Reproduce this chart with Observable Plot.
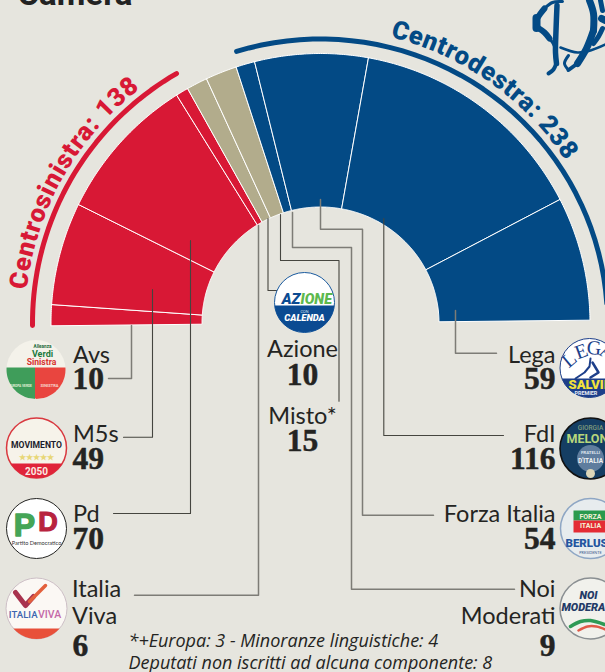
<!DOCTYPE html>
<html lang="it">
<head>
<meta charset="utf-8">
<script src="https://cdn.jsdelivr.net/npm/d3@7"></script>
<script src="https://cdn.jsdelivr.net/npm/@observablehq/plot@0.6"></script>
<style>
html,body{margin:0;padding:0;background:#e6e5de;overflow:hidden}
svg{display:block}
</style>
</head>
<body>
<div id="chart"></div>
<script>
// ---- data ----
const parties = ["Avs","M5s","Pd","Italia Viva","Azione","Misto*","Noi Moderati","Forza Italia","FdI","Lega"];
const seats   = [10,49,70,6,10,15,9,54,116,59];
const blocs   = ["Centrosinistra","Centrosinistra","Centrosinistra","Centrosinistra","Altri","Altri","Centrodestra","Centrodestra","Centrodestra","Centrodestra"];
const coalitionLabels = ["Centrosinistra: 138","Centrodestra: 238"];
const title = "Camera";
const footnotes = ["*+Europa: 3 - Minoranze linguistiche: 4","Deputati non iscritti ad alcuna componente: 8"];

// ---- style ----
const BG="#e6e5de", RED="#d81835", BLUE="#034a85", TAN="#b2ac8c", INK="#242422", LINE="#7d7c76", DARK="#45453f";
const SANS="Lato, 'Open Sans', sans-serif", SERIF="'Liberation Serif', serif", HEAD="Roboto, sans-serif";
const W=605,H=672;

// ---- semicircle geometry ----
const cx=320,cy=322.5,R=269.5,rx=118.5,ry=116,tilt=0.6;
const total=d3.sum(seats);
const rad=d=>d*Math.PI/180;
// angle measured clockwise from the left horizontal
const polar=(a,rX,rY=rX)=>({x:cx-rX*Math.cos(rad(a)),y:cy-rY*Math.sin(rad(a))});
const cum=d3.cumsum(seats);
const angleOf=v=>v/total*180-tilt;
const wedgePts=[];
parties.forEach((p,i)=>{
  const a0=angleOf(cum[i]-seats[i]),a1=angleOf(cum[i]),n=Math.ceil((a1-a0)*2)+1;
  const pts=[];
  for(let k=0;k<=n;k++) pts.push(polar(a0+(a1-a0)*k/n,R));
  for(let k=n;k>=0;k--) pts.push(polar(a0+(a1-a0)*k/n,rx,ry));
  pts.push(pts[0]);
  pts.forEach(q=>wedgePts.push({...q,party:p,bloc:blocs[i]}));
});

const arcPts=(a0,a1,rX,rY=rX)=>d3.range(0,41).map(k=>polar(a0+(a1-a0)*k/40,rX,rY));

// ---- helpers ----
const T=(s,x,y,o={})=>Plot.text([s],{x:[x],y:[y],text:[s],lineAnchor:"bottom",fontFamily:SANS,fill:INK,...o});
const poly=(pts,fill,o={})=>Plot.line(pts,{x:"x",y:"y",fill,stroke:"none",...o});
const stroke=(pts,color,w,o={})=>Plot.line(pts,{x:"x",y:"y",stroke:color,strokeWidth:w,...o});
const P=a=>a.map(([x,y])=>({x,y}));
// part of a disc between two heights and (optionally) two x limits
function seg(c,y0,y1,xmin=-1e4,xmax=1e4){
  const L=[],Rr=[];
  for(let k=0;k<=30;k++){
    const y=y0+(y1-y0)*k/30,w=Math.sqrt(Math.max(0,c.r*c.r-(y-c.y)*(y-c.y)));
    L.push({x:Math.max(c.x-w,xmin),y});Rr.push({x:Math.min(c.x+w,xmax),y});
  }
  return [...L,...Rr.reverse()];
}
const dot=(c,fill,st="none",w=1)=>Plot.dot([c],{x:"x",y:"y",r:c.r,fill,stroke:st,strokeWidth:w});

// ---- leader lines: from inside each segment to its label ----
const leaders=[
 {p:"Avs",   c:LINE,w:1.5,pts:[[131,325],[131,378],[108,378]]},
 {p:"M5s",   c:DARK,w:1.1,pts:[[152,289],[152,436.7],[123,436.7]]},
 {p:"Pd",    c:DARK,w:1.1,pts:[[190,240],[190,513],[113,513]]},
 {p:"Italia",c:LINE,w:1.5,pts:[[258,225],[258,594.7],[134,594.7]]},
 {p:"Azione",c:DARK,w:1.1,pts:[[267.5,218],[267.5,290],[277,290]]},
 {p:"Misto", c:DARK,w:1.1,pts:[[280,214],[280,260],[338.5,260],[338.5,400.7]]},
 {p:"Noi",   c:LINE,w:1.5,pts:[[292,212],[292,247],[351,247],[351,588.7],[514,588.7]]},
 {p:"FI",    c:LINE,w:1.5,pts:[[320,199],[320,228.7],[362,228.7],[362,514.7],[433,514.7]]},
 {p:"FdI",   c:DARK,w:1.1,pts:[[383.3,218],[383.3,435],[503,435]]},
 {p:"Lega",  c:LINE,w:1.5,pts:[[455,310],[455,352.7],[496,352.7]]}
];

// ---- labels ----
const nameSize=23.5,numSize=31.5;
const num=i=>String(seats[i]);
const numStyle={fontSize:numSize,fontFamily:SERIF,fontWeight:700,stroke:INK,strokeWidth:0.5};
const noteStyle={fontFamily:"'Open Sans', sans-serif",fontSize:18,fontStyle:"italic",textAnchor:"start"};
const labelMarks=[
 T("Avs",72.5,362,{fontSize:nameSize,textAnchor:"start"}),
 T(num(0),72,388,{...numStyle,textAnchor:"start"}),
 T("M5s",72.5,441.7,{fontSize:nameSize,textAnchor:"start"}),
 T(num(1),72,468,{...numStyle,textAnchor:"start"}),
 T("Pd",72.5,521.7,{fontSize:nameSize,textAnchor:"start"}),
 T(num(2),72,548,{...numStyle,textAnchor:"start"}),
 T("Italia",71.5,596.7,{fontSize:nameSize,textAnchor:"start"}),
 T("Viva",71.5,623,{fontSize:nameSize,textAnchor:"start"}),
 T(num(3),72,655,{...numStyle,textAnchor:"start"}),
 T("Azione",302,356.7,{fontSize:nameSize}),
 T(num(4),302,384,{...numStyle}),
 T("Misto*",302,423,{fontSize:nameSize}),
 T(num(5),302,450,{...numStyle}),
 T("Lega",555,362,{fontSize:nameSize,textAnchor:"end"}),
 T(num(9),555,388,{...numStyle,textAnchor:"end"}),
 T("FdI",555,441.7,{fontSize:nameSize,textAnchor:"end"}),
 T(num(8),555,468,{...numStyle,textAnchor:"end"}),
 T("Forza Italia",555,521.7,{fontSize:nameSize,textAnchor:"end"}),
 T(num(7),555,548,{...numStyle,textAnchor:"end"}),
 T("Noi",555,596.7,{fontSize:nameSize,textAnchor:"end"}),
 T("Moderati",555,623,{fontSize:nameSize,textAnchor:"end"}),
 T(num(6),555,655,{...numStyle,textAnchor:"end"}),
 T(footnotes[0],128,646.7,noteStyle),
 T(footnotes[1],128,668,noteStyle),
 T(title,17,4.5,{fontFamily:HEAD,fontWeight:700,fontSize:33,textAnchor:"start",fill:"#222"})
];

// ---- party badges ----
const C={avs:{x:35.5,y:369,r:29.5},m5s:{x:36,y:447.5,r:30},pd:{x:36,y:528,r:30},iv:{x:36,y:608,r:30.5},
 az:{x:304,y:302,r:30},lega:{x:589,y:367.5,r:29.5},fdi:{x:590,y:448,r:30.5},fi:{x:590,y:528,r:30},noi:{x:590,y:608,r:30.5}};
const b=(s,x,y,size,fill,o={})=>T(s,x,y,{fontFamily:"Roboto, sans-serif",fontWeight:700,fontSize:size,fill,...o});
const black={fontWeight:900};
const LS={fontFamily:"'Liberation Sans', sans-serif"};
const badgeMarks=[
 // Avs
 dot(C.avs,"#f4f2ea"),
 poly(seg(C.avs,367,398.5,-1e4,34.5),"#3f9d5a"),
 poly(seg(C.avs,367,398.5,34.5,1e4),"#e9453f"),
 b("Alleanza",42,347.5,4.6,"#1d6b3a"),b("Verdi",42,356,9,"#1d7a3e"),b("Sinistra",41,364.5,8.6,"#d8322e"),
 b("EUROPA VERDE",20,386,3.2,"#e4efd8"),b("SINISTRA",49,386,4,"#f8d8cc"),
 // M5s
 dot(C.m5s,"#f6f3ea","#d9383f",1.5),
 poly(seg(C.m5s,463,477.5),"#e0233a"),
 b("MOVIMENTO",36,447,8.6,"#1c1c2c"),
 b("★★★★★",36,459,8.4,"#e8d777"),
 b("2050",36,474,10,"#fbe9e2"),
 // Pd
 dot(C.pd,"#fff",INK,1),
 b("D",47.5,530.5,27,"#b8233f",{...LS,stroke:"#b8233f",strokeWidth:1.2}),
 b("P",24,535,32,"#45a557",{...LS,stroke:"#45a557",strokeWidth:1.4}),
 T("Partito Democratico",36,544.5,{fontSize:5.6,fill:"#333"}),
 // Italia Viva
 dot(C.iv,"#fbf8f4","#cdbfc6",1),
 poly(seg(C.iv,628,638.5),"#e8503a"),
 stroke(P([[15,592],[25,605],[33,596]]),"#a8334e",5),
 stroke(P([[29,601],[45,585]]),"#e3603c",3.5),
 b("ITALIA",37,617,9.6,"#3c66b0",{textAnchor:"end",fontWeight:500}),
 b("VIVA",37.5,617,10.5,"#c468a8",{textAnchor:"start",fontWeight:500}),
 // Azione
 dot(C.az,"#fff","#1a5a9e",1),
 poly(seg(C.az,305,332),"#0b4b92"),
 T("AZ",300,303,{fontFamily:"Roboto, sans-serif",fontWeight:900,fontStyle:"italic",fontSize:15,fill:"#0b4b92",textAnchor:"end"}),
 T("IONE",300,303,{fontFamily:"Roboto, sans-serif",fontWeight:900,fontStyle:"italic",fontSize:14.4,fill:"#5db94e",textAnchor:"start"}),
 T("CON",304,312,{fontSize:3.6,fill:"#dfe9f3"}),
 T("CALENDA",304,320.5,{fontFamily:"Roboto, sans-serif",fontWeight:900,fontStyle:"italic",fontSize:9.4,fill:"#fff"}),
 // Lega
 dot(C.lega,"#fff","#1d3f8a",1),
 poly(seg(C.lega,378,397),"#1d3f8a"),
 ...[["L",573,364,-40],["E",583,357,-20],["G",593,354,5],["A",604,357,25]].map(([s,x,y,r])=>
   T(s,x,y,{fontFamily:SERIF,fontSize:20,fill:"#1d3f8a",rotate:r})),
 stroke(P([[590,358],[589,366],[584,372],[575,378]]),"#1d3f8a",2),
 stroke(P([[592,362],[598,372],[590,377]]),"#1d3f8a",2.5),
 b("SALVINI",568,388.5,13,"#f2e23a",{textAnchor:"start",...black}),
 b("PREMIER",574,394,5.4,"#e8ecf5",{textAnchor:"start"}),
 // FdI
 dot(C.fdi,"#153e63","#111",1.6),
 T("GIORGIA",590,429.5,{fontFamily:"Roboto, sans-serif",fontWeight:500,fontSize:6.5,fill:"#7f9a7c"}),
 b("MELONI",566,442,12.5,"#b8d67c",{textAnchor:"start"}),
 dot({x:590,y:458,r:13.5},"#5f7d9e"),
 b("FRATELLI",590,453,4.4,"#dfe6ee"),b("D'ITALIA",590,462,6.5,"#f1f3f4"),
 dot({x:590,y:473,r:4.5},"#dcd6b8"),
 // Forza Italia
 dot(C.fi,"#e7ecee","#8ea6c4",1.5),
 poly(seg(C.fi,510,520,573,1e4),"#2a9a4e"),
 poly(seg(C.fi,520,532,573,1e4),"#e42c34"),
 b("FORZA",590,518,7,"#f4f0d8"),b("ITALIA",590,527,7,"#f4f0d8"),
 b("BERLUSCONI",565,546,11.5,"#23559f",{textAnchor:"start",...black}),
 T("PRESIDENTE",590,553,{fontSize:3.8,fill:"#39558a"}),
 // Noi Moderati
 dot(C.noi,"#f1f1ec","#8a8f92",1.5),
 b("NOI",588,598,11,"#233a66",{fontStyle:"italic",...black}),
 b("MODERATI",561,610,11,"#233a66",{textAnchor:"start",fontStyle:"italic",...black}),
 stroke(P([[570,626],[580,621],[590,620],[604,624]]),"#2e9a56",3.5,{curve:"catmull-rom"}),
 stroke(P([[578,630],[587,626],[596,626],[605,629]]),"#e05a48",2.5,{curve:"catmull-rom"})
];

// ---- monogram ----
const mono=[
 {w:5.5,pts:[[556.5,5],[555.5,30],[555,52],[556,63]]},
 {w:4,pts:[[556,62],[553,69],[548,73]]},
 {w:3,pts:[[562,1],[552,2],[544,8]]},
 {w:6,pts:[[544,8],[540,13],[536,19]]},
 {w:8,pts:[[536,17.5],[536,27.5]]},
 {w:6,pts:[[537,27],[544,32],[549,38]]},
 {w:3,pts:[[549,38],[552,42],[554,46]]},
 {w:2.5,pts:[[560,47],[577,52],[590,50],[605,44]]},
 {w:7,pts:[[589,0],[593,13],[593,30]]},
 {w:7,pts:[[593,30],[586,48],[577,63]]},
 {w:4,pts:[[577,63],[568,69.5]]},
 {w:3,pts:[[568,69.5],[564,63],[568,55]]},
 {w:7,pts:[[601,18],[605,20]]},
 {w:5,pts:[[600,0],[602,10]]},
 {w:5,pts:[[602,28],[598,36],[593,43]]}
];

// ---- curved coalition captions, set on the chart's own scales ----
// letter spacing is chosen so the caption spans the arc from a0 to a1
const measure=document.createElement("canvas").getContext("2d");
function curved(str,id,r,a0,a1,fill,size){
  return (index,{x,y})=>{
    measure.font=`900 ${size}px Roboto`;
    const want=rad(a1-a0)*r,ls=(want-measure.measureText(str).width)/str.length;
    const pts=arcPts(a0,a1+25,r).map(p=>[x(p.x),y(p.y)]);
    const g=d3.create("svg:g");
    g.append("path").attr("id",id).attr("fill","none").attr("d",d3.line()(pts));
    g.append("text").attr("text-anchor","start").attr("font-family",HEAD).attr("font-weight",900).attr("font-size",size)
      .attr("letter-spacing",ls.toFixed(2)).attr("fill",fill)
      .append("textPath").attr("href","#"+id).attr("startOffset",0).text(str);
    return g.node();
  };
}

const chart=Plot.plot({
  width:W,height:H,margin:0,
  style:{background:BG,overflow:"hidden"},
  x:{domain:[0,W],range:[0,W],axis:null},
  y:{domain:[0,H],range:[0,H],axis:null},
  color:{domain:["Centrosinistra","Altri","Centrodestra"],range:[RED,TAN,BLUE]},
  marks:[
    Plot.line(wedgePts,{x:"x",y:"y",z:"party",fill:"bloc",stroke:"#fff",strokeWidth:1,strokeLinejoin:"miter"}),
    stroke(arcPts(-0.5,60,288),RED,5),
    stroke(arcPts(73,176,287,284),BLUE,5),
    curved(coalitionLabels[0],"arc-sx",295,6.4,52.5,RED,25.5),
    curved(coalitionLabels[1],"arc-dx",294,103.8,146.7,BLUE,25.5),
    ...leaders.map(l=>stroke(P(l.pts),l.c,l.w)),
    ...labelMarks,
    ...badgeMarks,
    ...mono.map(m=>stroke(P(m.pts),BLUE,m.w,{curve:"catmull-rom"}))
  ]
});
document.getElementById("chart").append(chart);
</script>
</body>
</html>
